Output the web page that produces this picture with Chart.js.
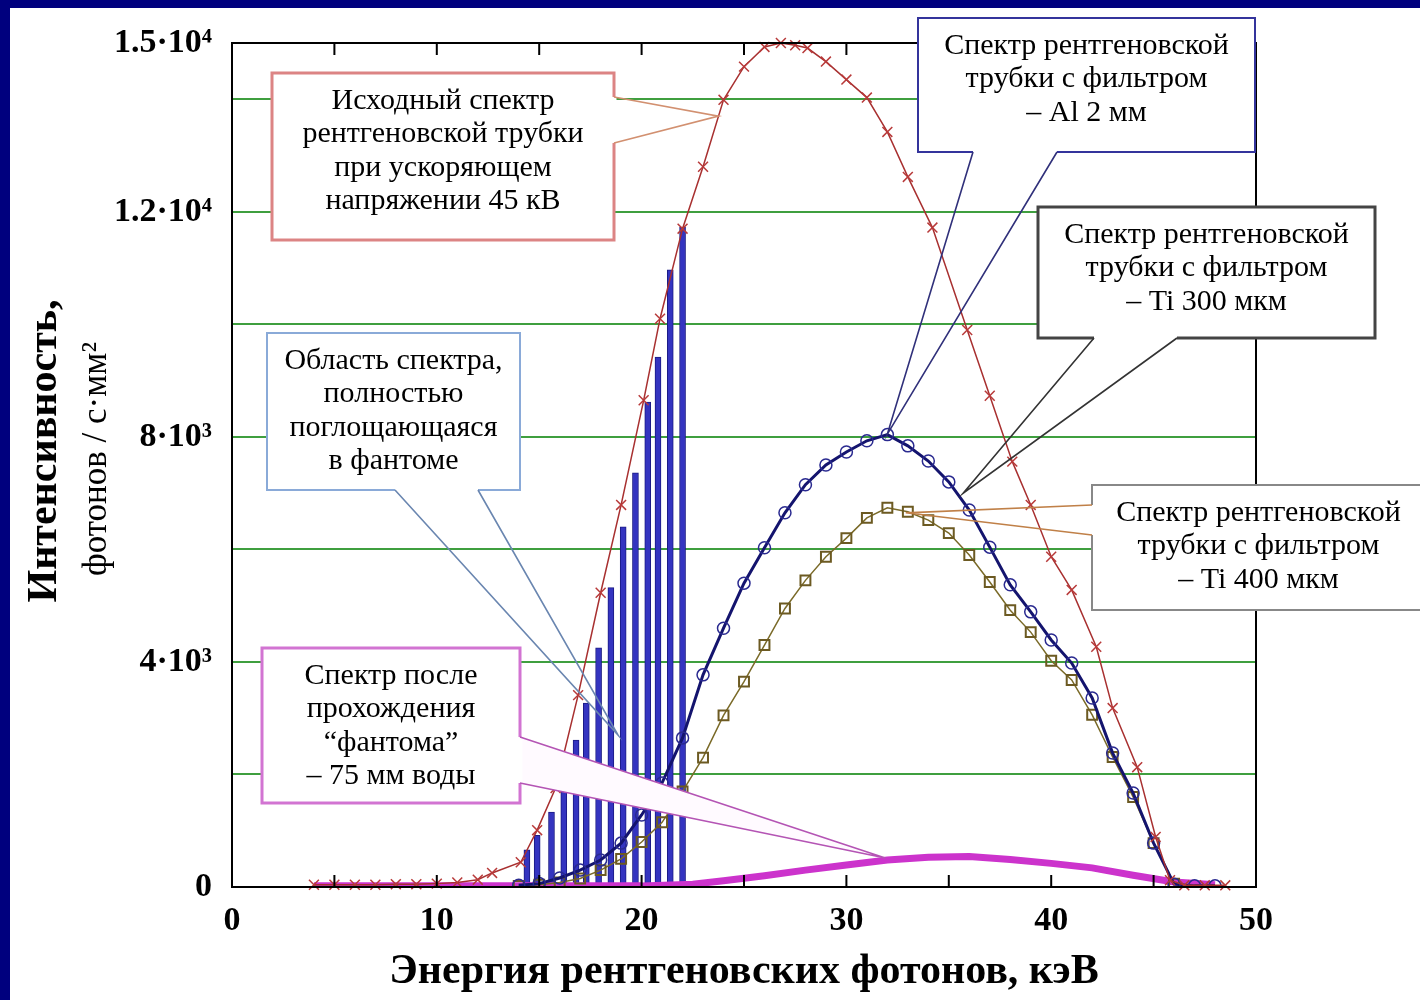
<!DOCTYPE html>
<html>
<head>
<meta charset="utf-8">
<script src="https://cdn.jsdelivr.net/npm/chart.js@4.4.0/dist/chart.umd.min.js"></script>
<style>
  html, body { margin: 0; padding: 0; background: #00007e; }
  #wrap { position: absolute; left: 10px; top: 8px; width: 1410px; height: 992px; background: #fff; }
</style>
</head>
<body>
<div id="wrap"><canvas id="spectrum" width="1410" height="992"></canvas></div>
<script>
// --- data (energy in keV, intensity in photons / s·mm²)
const redE = [4, 5, 6, 7, 8, 9, 10, 11, 12, 12.7, 14.1, 14.9, 15.8, 16.9, 18.0, 19.0, 20.1, 20.9, 22.0, 23.0, 24.0, 25.0, 26.0, 26.8, 27.5, 28.1, 29.0, 30.0, 31.0, 32.0, 33.0, 34.2, 35.9, 37.0, 38.1, 39.0, 40.0, 41.0, 42.2, 43.0, 44.2, 45.1, 45.8, 46.5, 47.5, 48.5];
const redI = [40, 40, 40, 40, 50, 50, 60, 80, 130, 250, 440, 1010, 1760, 3410, 5230, 6790, 8650, 10100, 11700, 12800, 13990, 14580, 14930, 15000, 14960, 14910, 14670, 14350, 14030, 13420, 12620, 11720, 9900, 8730, 7560, 6790, 5870, 5280, 4270, 3180, 2130, 890, 120, 30, 30, 30];

const alE = [14, 15, 16, 17, 18, 19, 20, 21, 22, 23, 24, 25, 26, 27, 28, 29, 30, 31, 32, 33, 34, 35, 36, 37, 38, 39, 40, 41, 42, 43, 44, 45, 46, 47, 48];
const alI = [30, 60, 160, 300, 480, 780, 1280, 1850, 2650, 3770, 4600, 5400, 6030, 6650, 7150, 7500, 7730, 7930, 8040, 7840, 7570, 7200, 6700, 6040, 5370, 4890, 4390, 3980, 3360, 2380, 1670, 780, 50, 20, 20];

const tiE = [14, 15, 16, 17, 18, 19, 20, 21, 22, 23, 24, 25, 26, 27, 28, 29, 30, 31, 32, 33, 34, 35, 36, 37, 38, 39, 40, 41, 42, 43, 44, 45, 46];
const tiI = [20, 40, 80, 150, 300, 500, 800, 1150, 1700, 2300, 3050, 3650, 4300, 4950, 5450, 5870, 6200, 6560, 6740, 6670, 6520, 6290, 5900, 5420, 4920, 4530, 4020, 3680, 3060, 2310, 1600, 780, 60];

const phantomE = [4, 8, 12, 16, 20, 22.5, 24, 26, 28, 30, 32, 34, 36, 38, 40, 42, 44, 46, 48];
const phantomI = [20, 20, 20, 20, 20, 50, 110, 200, 300, 390, 480, 530, 540, 490, 420, 340, 210, 90, 40];

const barE = [14.4, 14.9, 15.6, 16.2, 16.8, 17.3, 17.9, 18.5, 19.1, 19.7, 20.3, 20.8, 21.4, 22.0];
const barI = [660, 920, 1330, 1760, 2610, 3270, 4250, 5320, 6400, 7360, 8620, 9420, 10970, 11730];

const yTickValues = [0, 2000, 4000, 6000, 8000, 10000, 12000, 14000, 15000];
const yLabelValues = [0, 4000, 8000, 12000, 15000];
const yLabelTexts = ['0', '4·10³', '8·10³', '1.2·10⁴', '1.5·10⁴'];
const xMinorTicks = [5, 10, 15, 20, 25, 30, 35, 40, 45];

const pts = (xs, ys) => xs.map((v, i) => ({ x: v, y: ys[i] }));

// callout boxes (canvas px), tips in data units
const callouts = [
  { x: 262, y: 65, w: 342, h: 167, side: 'right', base: [89, 135], tip: [23.75, 13700],
    color: '#dc8484', lw: 3, line: '#d29070', fill: null,
    text: ['Исходный спектр', 'рентгеновской трубки', 'при ускоряющем', 'напряжении 45 кВ'] },
  { x: 257, y: 325, w: 253, h: 157, side: 'bottom', base: [385, 468], tip: [18.85, 2700],
    color: '#8aaad8', lw: 2, line: '#6a86b0', fill: null,
    text: ['Область спектра,', 'полностью', 'поглощающаяся', 'в фантоме'] },
  { x: 252, y: 640, w: 258, h: 155, side: 'right', base: [729, 775], tip: [31.9, 515],
    color: '#d274d2', lw: 3, line: '#b454b4', fill: '#fffaff',
    text: ['Спектр после', 'прохождения', '“фантома”', '– 75 мм воды'] },
  { x: 908, y: 10, w: 337, h: 134, side: 'bottom', base: [963, 1047], tip: [32, 8050],
    color: '#34349c', lw: 2, line: '#30307a', fill: null,
    text: ['Спектр рентгеновской', 'трубки с фильтром', '– Al 2 мм'] },
  { x: 1028, y: 199, w: 337, h: 131, side: 'bottom', base: [1084, 1167], tip: [35.7, 7000],
    color: '#444', lw: 3, line: '#333', fill: null,
    text: ['Спектр рентгеновской', 'трубки с фильтром', '– Ti 300 мкм'] },
  { x: 1082, y: 477, w: 333, h: 125, side: 'left', base: [497, 527], tip: [32.9, 6650],
    color: '#888', lw: 2, line: '#c08048', fill: null,
    text: ['Спектр рентгеновской', 'трубки с фильтром', '– Ti 400 мкм'] }
];

function drawCallout(ctx, c, xs, ys) {
  const tx = xs.getPixelForValue(c.tip[0]);
  const ty = ys.getPixelForValue(c.tip[1]);
  let p1, p2;
  if (c.side === 'right') { p1 = [c.x + c.w, c.base[0]]; p2 = [c.x + c.w, c.base[1]]; }
  else if (c.side === 'left') { p1 = [c.x, c.base[0]]; p2 = [c.x, c.base[1]]; }
  else { p1 = [c.base[0], c.y + c.h]; p2 = [c.base[1], c.y + c.h]; }

  ctx.fillStyle = '#fff';
  ctx.fillRect(c.x, c.y, c.w, c.h);
  ctx.lineWidth = c.lw;
  ctx.strokeStyle = c.color;
  ctx.strokeRect(c.x, c.y, c.w, c.h);

  if (c.fill) {
    ctx.beginPath();
    ctx.moveTo(p1[0], p1[1]); ctx.lineTo(tx, ty); ctx.lineTo(p2[0], p2[1]); ctx.closePath();
    ctx.fillStyle = c.fill;
    ctx.fill();
  }
  // open the box border where the pointer leaves it
  ctx.strokeStyle = '#fff';
  ctx.lineWidth = c.lw + 2;
  ctx.beginPath();
  ctx.moveTo(p1[0], p1[1]); ctx.lineTo(p2[0], p2[1]);
  ctx.stroke();

  ctx.strokeStyle = c.line;
  ctx.lineWidth = 1.6;
  ctx.beginPath();
  ctx.moveTo(p1[0], p1[1]); ctx.lineTo(tx, ty); ctx.lineTo(p2[0], p2[1]);
  ctx.stroke();

  ctx.fillStyle = '#000';
  ctx.font = '30px "Liberation Serif"';
  ctx.textAlign = 'center';
  ctx.textBaseline = 'middle';
  c.text.forEach((t, i) => ctx.fillText(t, c.x + c.w / 2, c.y + 28 + i * 33.5));
}

const extras = {
  id: 'extras',
  afterDatasetsDraw(chart) {
    const { ctx, chartArea: a, scales: { x, y } } = chart;
    ctx.save();
    ctx.strokeStyle = '#000';
    ctx.lineWidth = 2;
    ctx.strokeRect(a.left, a.top, a.right - a.left, a.bottom - a.top);
    ctx.beginPath();
    xMinorTicks.forEach(v => {
      const px = x.getPixelForValue(v);
      ctx.moveTo(px, a.bottom); ctx.lineTo(px, a.bottom - 12);
      ctx.moveTo(px, a.top); ctx.lineTo(px, a.top + 12);
    });
    ctx.stroke();

    callouts.forEach(c => drawCallout(ctx, c, x, y));

    // y axis title, two lines
    ctx.fillStyle = '#000';
    ctx.textAlign = 'center';
    ctx.textBaseline = 'middle';
    ctx.translate(35, 443);
    ctx.rotate(-Math.PI / 2);
    ctx.font = 'bold 42px "Liberation Serif"';
    ctx.fillText('Интенсивность,', 0, 0);
    ctx.font = '35px "Liberation Serif"';
    ctx.fillText('фотонов / с·мм²', -8, 52);
    ctx.restore();
  }
};

const ctx = document.getElementById('spectrum');
const spectrumChart = new Chart(ctx, {
  type: 'line',
  data: {
    datasets: [
      {
        label: 'Исходный спектр 45 кВ',
        data: pts(redE, redI),
        borderColor: '#a83030',
        borderWidth: 1.5,
        pointStyle: 'crossRot',
        pointRadius: 7,
        pointBorderColor: '#b83a3a',
        pointBorderWidth: 1.5,
        clip: false,
        order: 1
      },
      {
        label: 'Al 2 мм',
        data: pts(alE, alI),
        borderColor: '#14146e',
        borderWidth: 3,
        pointStyle: 'circle',
        pointRadius: 6,
        pointBorderColor: '#2a2a90',
        pointBackgroundColor: 'rgba(255,255,255,0)',
        pointBorderWidth: 1.5,
        order: 2
      },
      {
        label: 'Ti 400 мкм',
        data: pts(tiE, tiI),
        borderColor: '#7a6a28',
        borderWidth: 1.5,
        pointStyle: 'rect',
        pointRadius: 7,
        pointBorderColor: '#6c5a22',
        pointBackgroundColor: 'rgba(255,255,255,0)',
        pointBorderWidth: 2,
        order: 3
      },
      {
        label: 'После фантома',
        data: pts(phantomE, phantomI),
        borderColor: '#cc33cc',
        borderWidth: 7,
        pointRadius: 0,
        order: 4
      },
      {
        type: 'bar',
        label: 'Поглощается в фантоме',
        data: pts(barE, barI),
        backgroundColor: '#3434c0',
        borderColor: '#1a1a84',
        borderWidth: 1,
        barThickness: 6,
        order: 5
      }
    ]
  },
  options: {
    responsive: false,
    animation: false,
    layout: { padding: { top: 35, right: 164, left: 0, bottom: 0 } },
    plugins: {
      legend: { display: false },
      tooltip: { enabled: false }
    },
    scales: {
      x: {
        type: 'linear',
        min: 0,
        max: 50,
        offset: false,
        ticks: {
          stepSize: 10,
          padding: 14,
          color: '#000',
          font: { family: 'Liberation Serif', size: 34, weight: 'bold' }
        },
        grid: { display: false, drawTicks: false },
        border: { display: true, color: '#000', width: 2 },
        title: {
          display: true,
          text: 'Энергия рентгеновских фотонов, кэВ',
          color: '#000',
          font: { family: 'Liberation Serif', size: 42, weight: 'bold' },
          padding: { top: 0, bottom: 3 }
        },
        afterFit: s => { s.height = 113; }
      },
      y: {
        type: 'linear',
        min: 0,
        max: 15000,
        afterBuildTicks: s => { s.ticks = yTickValues.map(v => ({ value: v })); },
        ticks: {
          padding: 20,
          color: '#000',
          font: { family: 'Liberation Serif', size: 34, weight: 'bold' },
          callback: v => {
            const i = yLabelValues.indexOf(v);
            return i >= 0 ? yLabelTexts[i] : '';
          }
        },
        grid: {
          drawTicks: false,
          lineWidth: 2,
          color: c => (c.tick && c.tick.value > 0 && c.tick.value < 15000) ? '#3f9f3f' : 'rgba(0,0,0,0)'
        },
        border: { display: true, color: '#000', width: 2 },
        afterFit: s => { s.width = 222; s.paddingTop = 0; s.paddingBottom = 0; }
      }
    }
  },
  plugins: [extras]
});
</script>
</body>
</html>
